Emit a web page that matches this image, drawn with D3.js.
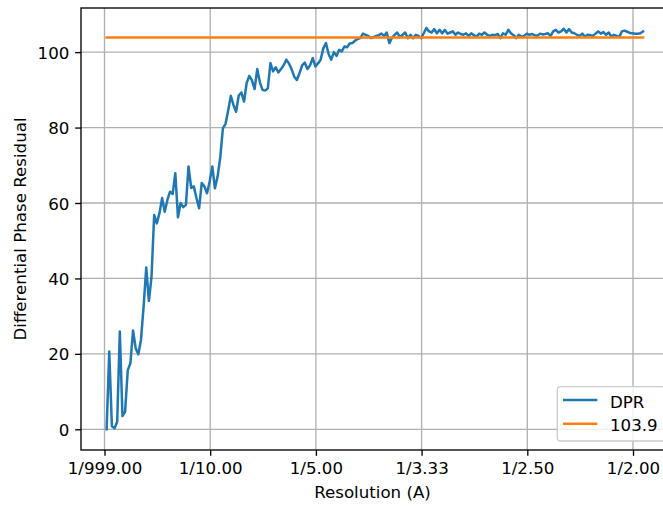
<!DOCTYPE html>
<html>
<head>
<meta charset="utf-8">
<script src="https://cdn.jsdelivr.net/npm/d3@7"></script>
<style>
  html, body { margin: 0; padding: 0; background: #ffffff; }
  svg { display: block; font-family: "DejaVu Sans", sans-serif; }
</style>
</head>
<body>
<svg id="chart" width="663" height="506"></svg>
<script>
// ---------------- data ----------------
const freqStart = 0.002;     // first spatial frequency bin (1/A)
const freqStep = 0.0025;     // bin width (1/A)
const dprValues = [
  0, 20.6, 0.8, 0.3, 2, 25.9, 3.5, 4.7, 15.7, 17.5,
  26.2, 21.5, 19.9, 23.7, 32.5, 42.9, 34, 40.5, 56.8, 54.6,
  57.3, 61.3, 57.7, 60.8, 63, 62.4, 67.9, 56.2, 60, 58.9,
  59.5, 69.7, 64, 64.4, 61.3, 58.6, 65.3, 64.4, 62.6, 65.7,
  69.7, 63.9, 67, 72, 79.8, 81, 84.5, 88.4, 86, 84.2,
  88.5, 89.3, 86.9, 91.8, 93.7, 92.5, 90.2, 95.5, 92, 90,
  89.8, 90.4, 97.1, 94.9, 96, 94.6, 95.5, 96.5, 98, 97,
  95.5, 93.5, 92.6, 94.4, 96.5, 97.2, 95.5, 96.5, 98.4, 96.2,
  97, 98, 101, 102.4, 99.5, 98, 100, 99, 100.6, 100.2,
  101.5, 101.3, 102.3, 102.4, 103, 103.5, 103.7, 104.9, 104.6, 104.3,
  103.7, 104, 104.3, 104.5, 104.9, 104.3, 105.2, 102.4, 103.8, 104.6,
  105.2, 104, 104.6, 105.2, 103.7, 104.6, 103.7, 104.6, 104.3, 103.7,
  105, 106.4, 105.5, 105.2, 106.1, 105, 105.9, 105, 105.9, 104.9,
  105.2, 105.5, 104.6, 105.2, 104.8, 104.6, 105, 104.3, 105, 104.5,
  104.1, 104.9, 104.6, 105.2, 104.6, 104.3, 104.6, 104.5, 104.8, 103.7,
  105, 104.6, 105.9, 105, 104.5, 103.7, 104.6, 104.1, 104.3, 104.9,
  104.6, 104.8, 104.5, 104.3, 104.9, 104.7, 104.8, 105, 104.3, 105.5,
  105.9, 105.2, 105.5, 106.2, 105.2, 106.1, 105.2, 105, 104.6, 104.3,
  104.9, 104.1, 104.6, 104.5, 104.3, 104.9, 105.5, 104.9, 105.3, 104.6,
  105.2, 104.1, 104.6, 104.3, 104, 105.5, 105.7, 105.4, 105.1, 105,
  104.9, 104.9, 105, 105.5
];
const thresholdValue = 103.9;
const seriesNames = ["DPR", "103.9"];
const seriesColors = ["#1f77b4", "#ff7f0e"];
const xTickValues = [0, 0.1, 0.2, 0.3, 0.4, 0.5];
const xTickLabels = ["1/999.00", "1/10.00", "1/5.00", "1/3.33", "1/2.50", "1/2.00"];
const yTickValues = [0, 20, 40, 60, 80, 100];
const xAxisTitle = "Resolution (A)";
const yAxisTitle = "Differential Phase Residual";

// -------------- build --------------
const points = dprValues.map((v, i) => ({ f: freqStart + i * freqStep, v }));
const fEnd = points[points.length - 1].f;
const hline = [{ f: freqStart, v: thresholdValue }, { f: fEnd, v: thresholdValue }];

const W = 663, H = 506;
const plot = { left: 81, top: 8, bottom: 450, right: 670 };
const FS = 16.67;
const TXT = "#000000";

const x = d3.scaleLinear().domain([-0.02223, 0.535]).range([plot.left, plot.right]);
const y = d3.scaleLinear().domain([-5.49, 111.7]).range([plot.bottom, plot.top]);

const svg = d3.select("#chart");
svg.append("rect").attr("width", W).attr("height", H).attr("fill", "#ffffff");

svg.append("defs").append("clipPath").attr("id", "clip")
  .append("rect").attr("x", plot.left).attr("y", plot.top)
  .attr("width", plot.right - plot.left).attr("height", plot.bottom - plot.top);

// grid
const grid = svg.append("g").attr("stroke", "#b0b0b0").attr("stroke-width", 1.33);
xTickValues.forEach(t => grid.append("line")
  .attr("x1", x(t)).attr("x2", x(t)).attr("y1", plot.top).attr("y2", plot.bottom));
yTickValues.forEach(t => grid.append("line")
  .attr("x1", plot.left).attr("x2", plot.right).attr("y1", y(t)).attr("y2", y(t)));

// lines
const line = d3.line().x(d => x(d.f)).y(d => y(d.v));
const lines = svg.append("g").attr("clip-path", "url(#clip)");
lines.append("path").datum(points).attr("d", line)
  .attr("fill", "none").attr("stroke", seriesColors[0]).attr("stroke-width", 2.5)
  .attr("stroke-linejoin", "round").attr("stroke-linecap", "square");
lines.append("path").datum(hline).attr("d", line)
  .attr("fill", "none").attr("stroke", seriesColors[1]).attr("stroke-width", 2.5)
  .attr("stroke-linecap", "square");

// axes using d3 axis generators
const xAxis = d3.axisBottom(x).tickValues(xTickValues)
  .tickFormat((d, i) => xTickLabels[i]).tickSize(5.83).tickPadding(5.5);
const gx = svg.append("g").attr("transform", `translate(0,${plot.bottom})`).call(xAxis);
gx.select(".domain").remove();
gx.selectAll(".tick line").attr("stroke", "#000").attr("stroke-width", 1.33);
gx.selectAll(".tick text").attr("fill", TXT).style("font-size", FS + "px")
  .style("font-family", "DejaVu Sans").attr("dy", "0.76em");

const yAxis = d3.axisLeft(y).tickValues(yTickValues).tickFormat(d3.format("d"))
  .tickSize(5.83).tickPadding(5.8);
const gy = svg.append("g").attr("transform", `translate(${plot.left},0)`).call(yAxis);
gy.select(".domain").remove();
gy.selectAll(".tick line").attr("stroke", "#000").attr("stroke-width", 1.33);
gy.selectAll(".tick text").attr("fill", TXT).style("font-size", FS + "px")
  .style("font-family", "DejaVu Sans").attr("dy", "0.36em");

// spines
const sp = svg.append("g").attr("stroke", "#000").attr("stroke-width", 1.33).attr("fill", "none");
sp.append("rect").attr("x", plot.left).attr("y", plot.top)
  .attr("width", plot.right - plot.left).attr("height", plot.bottom - plot.top);

// axis titles
svg.append("text").attr("x", (plot.left + plot.right) / 2 - 3).attr("y", 498)
  .attr("text-anchor", "middle").attr("fill", TXT).style("font-size", FS + "px")
  .text(xAxisTitle);
svg.append("text").attr("transform", `translate(25.5,${(plot.top + plot.bottom) / 2}) rotate(-90)`)
  .attr("text-anchor", "middle").attr("fill", TXT).style("font-size", FS + "px")
  .text(yAxisTitle);

// legend
const lg = svg.append("g");
lg.append("rect").attr("x", 557.3).attr("y", 386.7).attr("width", 108).attr("height", 54.3)
  .attr("rx", 3.3).attr("fill", "#ffffff").attr("fill-opacity", 0.8)
  .attr("stroke", "#cccccc").attr("stroke-width", 1.33);
seriesNames.forEach((name, i) => {
  const cy = 400 + i * 23.7;
  lg.append("line").attr("x1", 563).attr("x2", 597.3).attr("y1", cy).attr("y2", cy)
    .attr("stroke", seriesColors[i]).attr("stroke-width", 2.5);
  lg.append("text").attr("x", 610).attr("y", cy + 7.6).attr("fill", TXT)
    .style("font-size", FS + "px").text(name);
});
</script>
</body>
</html>
